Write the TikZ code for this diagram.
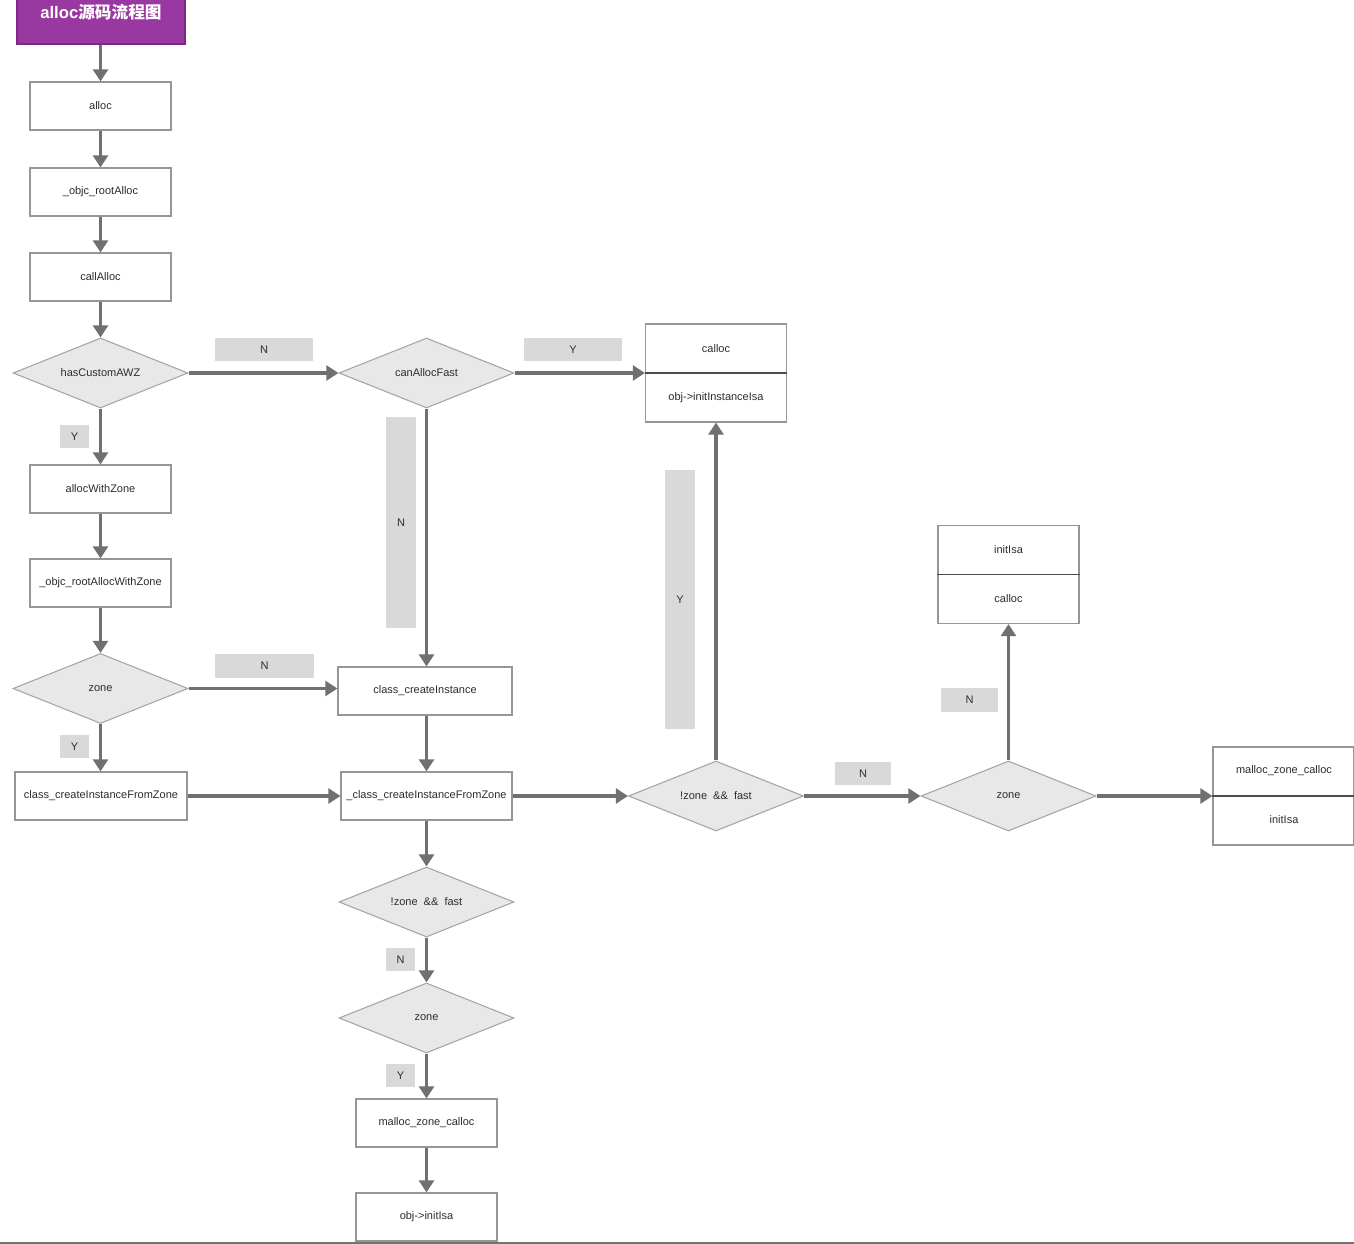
\documentclass[tikz,border=0pt]{standalone}
\usepackage{fontspec}
\setmainfont{Liberation Sans}
\newfontfamily\cjk{Noto Sans CJK SC}
\usetikzlibrary{shapes.geometric,arrows.meta}
\definecolor{arrowgray}{RGB}{112,112,112}
\definecolor{boxline}{RGB}{150,150,150}
\definecolor{dfill}{RGB}{232,232,232}
\definecolor{dline}{RGB}{165,165,165}
\definecolor{lblfill}{RGB}{217,217,217}
\definecolor{txt}{RGB}{45,45,45}
\definecolor{titlefill}{RGB}{152,56,160}
\definecolor{titleline}{RGB}{125,40,135}
\tikzset{
  every node/.style={font=\fontsize{8.25pt}{10pt}\selectfont, text=txt, inner sep=0pt},
  pbox/.style={rectangle, draw=boxline, line width=0.8pt, fill=white, minimum width=105.75pt, minimum height=36pt},
  dbox/.style={rectangle, draw=boxline, line width=0.8pt, fill=white, minimum width=105.75pt, minimum height=73.5pt},
  dec/.style={diamond, aspect=2.5, draw=dline, line width=0.8pt, fill=dfill, minimum width=131.25pt, minimum height=52.5pt},
  lbl/.style={rectangle, fill=lblfill, minimum height=17.25pt},
  arr/.style={draw=arrowgray, line width=2.3pt, -{Triangle[length=9pt,width=11pt]}},
  divider/.style={draw=black!70, line width=0.9pt},
}
\begin{document}
\begin{tikzpicture}[x=0.75pt,y=-0.75pt]
\useasboundingbox (0,0) rectangle (1354,1244);
\fill[white] (0,0) rectangle (1354,1244);
% title
\node[rectangle, fill=titlefill, draw=titleline, line width=0.8pt, minimum width=126pt, minimum height=48pt] (title) at (101,12) {};
\node[text=white, font=\fontsize{12.5pt}{15pt}\selectfont\bfseries] (titletext) at (101,12) {alloc{\cjk\bfseries 源码流程图}};
% left column
\node[pbox] (alloc) at (100.5,106) {alloc};
\node[pbox] (rootalloc) at (100.5,192) {\_objc\_rootAlloc};
\node[pbox] (callalloc) at (100.5,277) {callAlloc};
\node[dec] (hasawz) at (100.5,373) {hasCustomAWZ};
\node[pbox] (allocwz) at (100.5,489) {allocWithZone};
\node[pbox] (rootwz) at (100.5,583) {\_objc\_rootAllocWithZone};
\node[dec] (zone1) at (100.5,688.5) {zone};
\node[pbox, minimum width=129pt] (ccifz) at (101,796) {class\_createInstanceFromZone};
% middle column
\node[dec] (canfast) at (426.5,373) {canAllocFast};
\node[pbox, minimum width=130.5pt] (cci) at (425,691) {class\_createInstance};
\node[pbox, minimum width=128.25pt] (uccifz) at (426.5,796) {\_class\_createInstanceFromZone};
\node[dec] (zf2) at (426.5,902) {!zone\ \ \&\&\ \ fast};
\node[dec] (zone3) at (426.5,1018) {zone};
\node[pbox] (mzc) at (426.5,1123) {malloc\_zone\_calloc};
\node[pbox] (initisa) at (426.5,1217) {obj->initIsa};
% calloc box
\node[dbox] (cbox) at (716,373) {};
\node (cboxa) at (716,349) {calloc};
\node (cboxb) at (716,398) {obj->initInstanceIsa};
\draw[divider] (cbox.west) -- (cbox.east);
% right part
\node[dec] (zf1) at (716,796) {!zone\ \ \&\&\ \ fast};
\node[dec] (zone2) at (1008.5,796) {zone};
\node[dbox] (ibox) at (1008.5,574.5) {};
\node (iboxa) at (1008.5,550) {initIsa};
\node (iboxb) at (1008.5,599) {calloc};
\draw[divider] (ibox.west) -- (ibox.east);
\node[dbox] (mbox) at (1283.5,796) {};
\node (mboxa) at (1284,771) {malloc\_zone\_calloc};
\node (mboxb) at (1284,820) {initIsa};
\draw[divider] (mbox.west) -- (mbox.east);
% labels
\node[lbl, minimum width=73.5pt] (l1) at (264,350) {N};
\node[lbl, minimum width=73.5pt] (l2) at (573,349.5) {Y};
\node[lbl, minimum width=21.75pt] (l3) at (74.5,436.5) {Y};
\node[lbl, minimum width=22.5pt, minimum height=158.25pt] (l4) at (401,522.5) {N};
\node[lbl, minimum width=22.5pt, minimum height=194.25pt] (l5) at (680,599.5) {Y};
\node[lbl, minimum width=74.25pt, minimum height=18pt] (l6) at (264.5,666) {N};
\node[lbl, minimum width=21.75pt] (l7) at (74.5,746.5) {Y};
\node[lbl, minimum width=42pt] (l8) at (863,773.5) {N};
\node[lbl, minimum width=42.75pt, minimum height=18pt] (l9) at (969.5,700) {N};
\node[lbl, minimum width=21.75pt] (l10) at (400.5,959.5) {N};
\node[lbl, minimum width=21.75pt] (l11) at (400.5,1075.5) {Y};
% arrows
\draw[arr] (title.south -| alloc.north) -- (alloc.north);
\draw[arr] (alloc) -- (rootalloc);
\draw[arr] (rootalloc) -- (callalloc);
\draw[arr] (callalloc) -- (hasawz.north);
\draw[arr] (hasawz.east) -- (canfast.west);
\draw[arr] (hasawz.south) -- (allocwz.north);
\draw[arr] (canfast.east) -- (cbox.west);
\draw[arr] (canfast.south) -- (canfast.south |- cci.north);
\draw[arr] (allocwz) -- (rootwz);
\draw[arr] (rootwz) -- (zone1.north);
\draw[arr] (zone1.east) -- (zone1.east -| cci.west);
\draw[arr] (zone1.south) -- (ccifz.north -| zone1.south);
\draw[arr] (ccifz.east) -- (uccifz.west);
\draw[arr] (cci.south -| uccifz.north) -- (uccifz.north);
\draw[arr] (uccifz.east) -- (zf1.west);
\draw[arr] (uccifz.south) -- (zf2.north);
\draw[arr] (zf1.north) -- (cbox.south);
\draw[arr] (zf1.east) -- (zone2.west);
\draw[arr] (zone2.north) -- (ibox.south);
\draw[arr] (zone2.east) -- (mbox.west);
\draw[arr] (zf2.south) -- (zone3.north);
\draw[arr] (zone3.south) -- (mzc.north);
\draw[arr] (mzc) -- (initisa);
% bottom rule
\coordinate (bl) at (0,1242.5);
\coordinate (br) at (1354,1242.5);
\draw[draw=black!55, line width=1.5pt] (bl) -- (br);
\end{tikzpicture}
\end{document}
